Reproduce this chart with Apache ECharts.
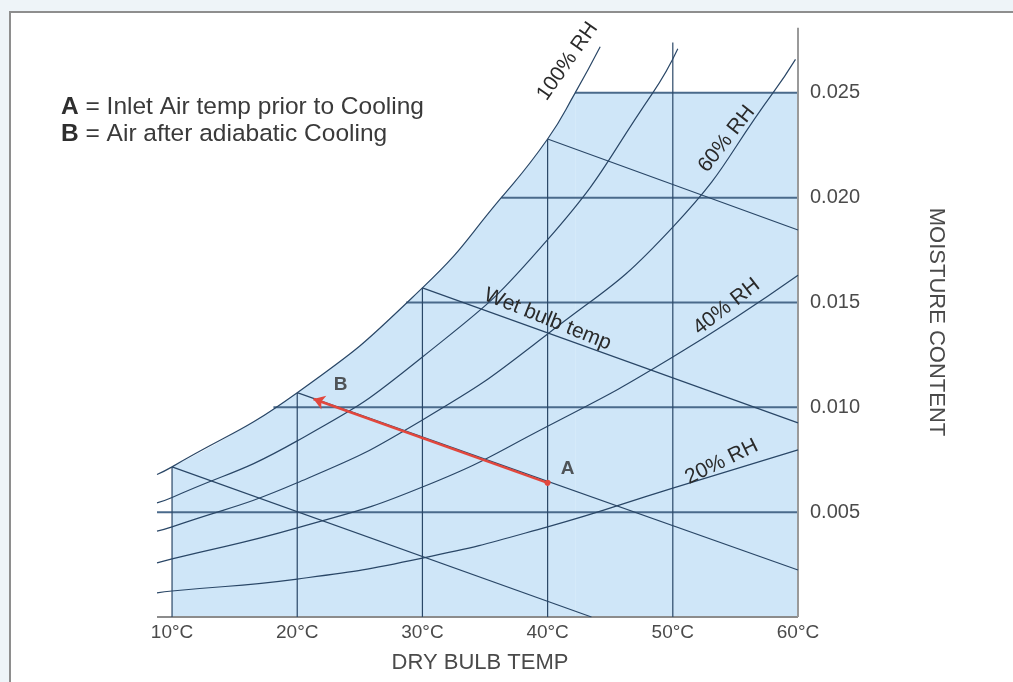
<!DOCTYPE html>
<html><head><meta charset="utf-8">
<script src="https://cdn.jsdelivr.net/npm/echarts@6/dist/echarts.min.js"></script>
<style>html,body{margin:0;padding:0;background:#fff}#c{width:1013px;height:682px}</style>
</head><body><div id="c"></div>
<script>
// ---- data ----
const xTicks = [10, 20, 30, 40, 50, 60];
const xTickLabels = ['10°C', '20°C', '30°C', '40°C', '50°C', '60°C'];
const yTicks = [0.005, 0.010, 0.015, 0.020, 0.025];
const yTickLabels = ['0.005', '0.010', '0.015', '0.020', '0.025'];

// relative humidity curves: [dry bulb °C, moisture content]
const rh100 = [[8.8,0.0068],[10,0.00716],[20,0.0107],[30,0.0157],[36.3,0.0200],[40,0.0228],[42.2,0.0250],[44.2,0.0272]];
const rh80  = [[8.8,0.00544],[10,0.0057],[20,0.0084],[30,0.0124],[40,0.0180],[48.4,0.0250],[50.4,0.0271]];
const rh60  = [[8.8,0.0041],[10,0.0043],[20,0.0064],[30,0.0094],[40,0.0135],[50,0.0186],[58,0.0250],[59.8,0.0266]];
const rh40  = [[8.8,0.00258],[10,0.00277],[20,0.00425],[30,0.0062],[40,0.0091],[50,0.0124],[60,0.0163]];
const rh20  = [[8.8,0.00115],[10,0.00124],[20,0.00181],[30,0.00281],[40,0.0043],[50,0.00615],[60,0.00797]];

// wet bulb lines: start (on saturation) and end
const wbStart = [[10,0.00716],[20,0.0107],[30,0.0157],[40,0.0228]];
const wbEnd   = [[43.5,0],[60,0.00224],[60,0.00926],[60,0.01846]];

// vertical dry-bulb lines: top moisture content at each x tick
const vLineTops = [0.00716, 0.0107, 0.0157, 0.0228, 0.0274, 0.0281];
// horizontal moisture lines: start temperature for each y tick
const hLineStart = [8.8, 18.1, 28.7, 36.3, 42.2];
const axisStubStart = 8.8;

// process points
const pointA = [40, 0.0064];
const pointB = [21.3, 0.0104];

// curve labels: text, anchor [°C, moisture], rotation (deg)
const curveLabelText = ['100% RH', '60% RH', '40% RH', '20% RH', 'Wet bulb temp'];
const curveLabelAt = [[41.6,0.0265],[54.3,0.0228],[54.3,0.0148],[53.9,0.0074],[40.0,0.0142]];
const curveLabelRot = [55, 52, 38, 26, -22];

// ---- chart ----
const LINE = '#2a4767';
const HLINE = '#4a6a8b';
const FILL = '#cfe6f8';
const FONT = '"Liberation Sans", Arial, Helvetica, sans-serif';
const SMOOTH = 0.5;

function ln(data, color, width, extra) {
  return Object.assign({
    type: 'line', data: data, symbol: 'none', showSymbol: false,
    silent: true, animation: false, z: 3,
    lineStyle: { color: color, width: width }
  }, extra || {});
}

const series = [];
// blue fill under saturation, capped at top moisture line
const yTop = yTicks[yTicks.length - 1];
const xEnd = xTicks[xTicks.length - 1];
const capStart = hLineStart[hLineStart.length - 1];
const fillData = rh100.filter(p => p[0] >= xTicks[0] && p[1] <= yTop);
series.push({ type: 'line', data: fillData, symbol: 'none', smooth: SMOOTH,
  silent: true, animation: false, z: 1, lineStyle: { width: 0 },
  areaStyle: { color: FILL, opacity: 1 } });
series.push({ type: 'line', data: [[capStart, yTop], [xEnd, yTop]], symbol: 'none',
  silent: true, animation: false, z: 1, lineStyle: { width: 0 },
  areaStyle: { color: FILL, opacity: 1 } });

// horizontal moisture lines
yTicks.forEach((w, i) => series.push(ln([[hLineStart[i], w], [xEnd, w]], HLINE, 2)));
// bottom baseline
series.push(ln([[axisStubStart, 0], [xEnd, 0]], '#8c8c8c', 2));
// vertical dry bulb lines
xTicks.forEach((t, i) => {
  const last = i === xTicks.length - 1;
  series.push(ln([[t, 0], [t, vLineTops[i]]], last ? '#9a9a9a' : LINE, last ? 2 : 1.2));
});
// RH curves
[rh100, rh80, rh60, rh40, rh20].forEach(c => series.push(ln(c, LINE, 1.2, { smooth: SMOOTH })));
// wet bulb lines
wbStart.forEach((s, i) => series.push(ln([s, wbEnd[i]], LINE, 1.2)));
// process arrow A -> B
series.push({ type: 'lines', coordinateSystem: 'cartesian2d', silent: true, animation: false, z: 5,
  symbol: ['circle', 'arrow'], symbolSize: [6, 11],
  lineStyle: { color: '#e2473d', width: 2.5, opacity: 1 },
  data: [{ coords: [pointA, pointB] }] });
// point labels
series.push({ type: 'scatter', symbolSize: 0, silent: true, animation: false, z: 6,
  data: [{ value: pointA, name: 'A', label: { offset: [20, -14] } },
         { value: pointB, name: 'B', label: { offset: [27, -14] } }],
  label: { show: true, position: 'inside', formatter: '{b}', color: '#2e2e2e',
           fontWeight: 'bold', fontSize: 19, fontFamily: FONT } });

const chart = echarts.init(document.getElementById('c'), null, { renderer: 'canvas' });
const option = {
  animation: false,
  backgroundColor: '#eef4f8',
  grid: { left: 147, right: 215, top: 9, bottom: 65, containLabel: false },
  xAxis: { type: 'value', min: 8, max: 60, interval: 2,
    axisLine: { show: false }, axisTick: { show: false }, splitLine: { show: false },
    axisLabel: { margin: 6, fontSize: 19, color: '#4a4a4a', fontFamily: FONT, showMinLabel: true,
      formatter: v => { const i = xTicks.indexOf(Math.round(v * 100) / 100); return i >= 0 ? xTickLabels[i] : ''; } } },
  yAxis: { type: 'value', position: 'right', min: 0, max: 0.029, interval: 0.005,
    axisLine: { show: false }, axisTick: { show: false }, splitLine: { show: false },
    axisLabel: { margin: 12, fontSize: 20, color: '#4a4a4a', fontFamily: FONT,
      formatter: v => { const i = yTicks.findIndex(t => Math.abs(t - v) < 1e-9); return i >= 0 ? yTickLabels[i] : ''; } } },
  series: series
};
chart.setOption(option);

// text elements positioned through the chart's own coordinate conversion
const g = [
  { type: 'rect', z: -10, shape: { x: 10, y: 12, width: 1020, height: 700 },
    style: { fill: '#ffffff', stroke: '#8e8e8e', lineWidth: 2 } },
  { type: 'text', left: 61, top: 95, z: 10,
    style: { text: '{b|A} = Inlet Air temp prior to Cooling', font: '24.5px ' + FONT, fill: '#3a3a3a',
      rich: { b: { fontWeight: 'bold', fontSize: 24.5, fontFamily: FONT, fill: '#2e2e2e' } } } },
  { type: 'text', left: 61, top: 122, z: 10,
    style: { text: '{b|B} = Air after adiabatic Cooling', font: '24.5px ' + FONT, fill: '#3a3a3a',
      rich: { b: { fontWeight: 'bold', fontSize: 24.5, fontFamily: FONT, fill: '#2e2e2e' } } } },
  { type: 'text', x: 480, y: 663, z: 10,
    style: { text: 'DRY BULB TEMP', font: '22px ' + FONT, fill: '#4a4a4a', textAlign: 'center', textVerticalAlign: 'middle' } },
  { type: 'text', x: 936, y: 322, rotation: -Math.PI / 2, z: 10,
    style: { text: 'MOISTURE CONTENT', font: '22px ' + FONT, fill: '#4a4a4a', textAlign: 'center', textVerticalAlign: 'middle' } }
];
curveLabelText.forEach((t, i) => {
  const p = chart.convertToPixel({ gridIndex: 0 }, curveLabelAt[i]);
  g.push({ type: 'text', x: p[0], y: p[1], rotation: curveLabelRot[i] * Math.PI / 180, z: 10,
    style: { text: t, font: '21px "Liberation Sans Narrow", ' + FONT, fill: '#2a2a2a', textAlign: 'center', textVerticalAlign: 'middle' } });
});
chart.setOption({ graphic: { elements: g } });
</script></body></html>
